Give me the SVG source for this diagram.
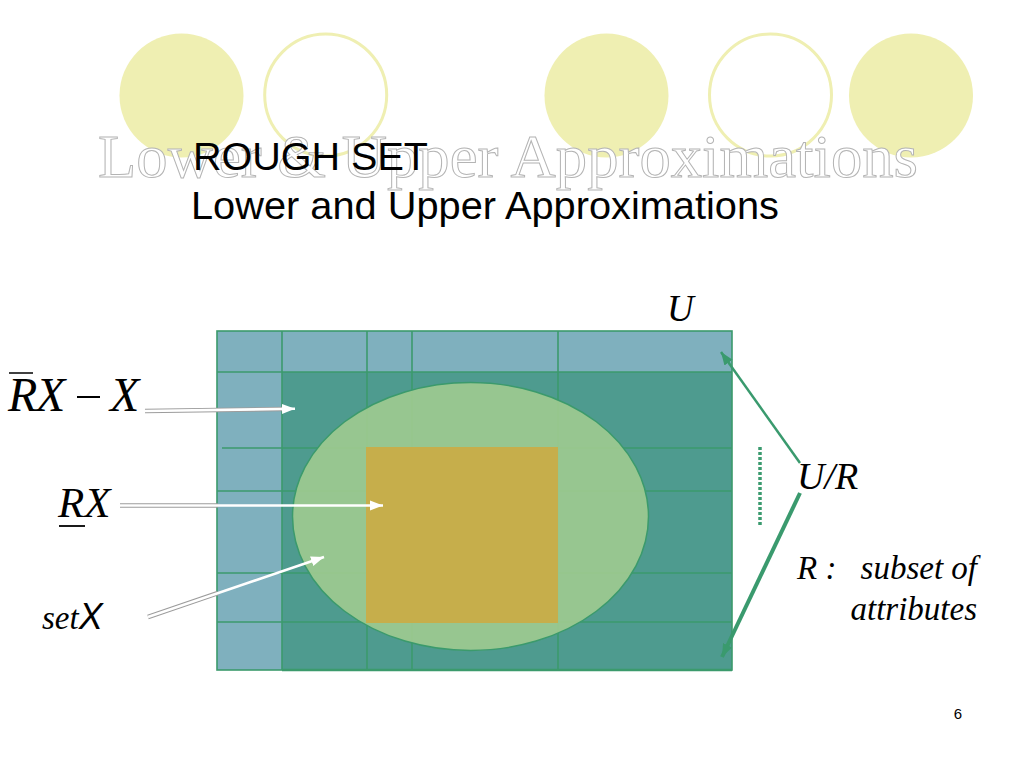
<svg xmlns="http://www.w3.org/2000/svg" width="1024" height="768" viewBox="0 0 1024 768">
<style>
.dec-fill{fill:#EFEFB2;}
.dec-ring{fill:#ffffff;stroke:#EFEFB2;stroke-width:3;}
.ghost{font-family:"Liberation Serif",serif;font-size:62px;fill:#ffffff;stroke:#b4b4b4;stroke-width:1;}
.title{font-family:"Liberation Sans",Arial,sans-serif;font-size:39px;fill:#000;}
.math{font-family:"Liberation Serif",serif;font-style:italic;fill:#000;}
.grid{stroke:#3B9A6C;stroke-width:1.6;fill:none;}
.wcase{stroke:#9c9c9c;stroke-width:4.5;fill:none;}
.wline{stroke:#ffffff;stroke-width:2.6;fill:none;}
.gline{stroke:#3A9A6E;fill:none;}
</style>
<defs>
<marker id="wh" markerUnits="userSpaceOnUse" markerWidth="14" markerHeight="12" refX="13" refY="6" orient="auto">
<path d="M0,1 L13,6 L0,11 Z" fill="#ffffff"/>
</marker>
<marker id="gh" markerUnits="userSpaceOnUse" markerWidth="14" markerHeight="12" refX="13" refY="6" orient="auto">
<path d="M0,1 L13,6 L0,11 Z" fill="#3A9A6E"/>
</marker>
</defs>
<rect width="1024" height="768" fill="#ffffff"/>

<g id="decor">
<circle class="dec-fill" cx="181.5" cy="95.5" r="62"/>
<circle class="dec-ring" cx="325.7" cy="95" r="61"/>
<circle class="dec-fill" cx="606.5" cy="95.5" r="62"/>
<circle class="dec-ring" cx="770.5" cy="95" r="61"/>
<circle class="dec-fill" cx="911" cy="95.5" r="62"/>
</g>

<g id="ghost-title">
<text class="ghost" x="98" y="177" textLength="820" lengthAdjust="spacingAndGlyphs">Lower &amp; Upper Approximations</text>
</g>

<g id="title">
<text class="title" x="193" y="169.5" textLength="235" lengthAdjust="spacingAndGlyphs">ROUGH SET</text>
<text class="title" x="191" y="219" textLength="588" lengthAdjust="spacingAndGlyphs">Lower and Upper Approximations</text>
</g>

<g id="universe">
<rect x="217" y="331" width="515" height="339" fill="#7FB0BE"/>
<rect x="282" y="372" width="450" height="298" fill="#4E9B8F"/>
<g class="grid">
<line x1="282" y1="331" x2="282" y2="670"/>
<line x1="367" y1="331" x2="367" y2="670"/>
<line x1="412" y1="331" x2="412" y2="670"/>
<line x1="558" y1="331" x2="558" y2="670"/>
<line x1="217" y1="372" x2="732" y2="372"/>
<line x1="222" y1="448" x2="732" y2="448"/>
<line x1="217" y1="491" x2="732" y2="491"/>
<line x1="217" y1="573" x2="732" y2="573"/>
<line x1="217" y1="622" x2="732" y2="622"/>
<rect x="217" y="331" width="515" height="339"/>
<line x1="282" y1="670" x2="732" y2="670" stroke-width="2.5"/>
</g>
</g>

<g id="setX">
<ellipse cx="470.5" cy="516.5" rx="178" ry="134" fill="#A0CB90" fill-opacity="0.9" stroke="#3B9A6C" stroke-width="1.5"/>
</g>

<g id="lowerRX">
<rect x="366" y="447" width="192" height="176" fill="#CBAB44" fill-opacity="0.9"/>
</g>

<g id="labels">
<text class="math" font-size="48"><tspan x="8" y="411">R</tspan><tspan x="36" y="411">X</tspan><tspan x="110" y="411">X</tspan></text>
<line x1="77" y1="397" x2="100" y2="397" stroke="#000" stroke-width="2"/>
<line x1="9" y1="373" x2="33" y2="373" stroke="#000" stroke-width="1.5"/>
<text class="math" font-size="43" x="58" y="516.5">RX</text>
<line x1="59" y1="526" x2="85" y2="526" stroke="#000" stroke-width="1.8"/>
<text x="42" y="629"><tspan class="math" font-size="33">set</tspan><tspan font-family="'Liberation Sans',Arial,sans-serif" font-style="italic" font-size="36" fill="#000">X</tspan></text>
<text class="math" font-size="37" x="667" y="321">U</text>
<text class="math" font-size="38" x="797" y="489">U/R</text>
<text class="math" font-size="33" x="797" y="579">R :</text>
<text class="math" font-size="33" x="977" y="579" text-anchor="end">subset of</text>
<text class="math" font-size="33" x="977" y="620" text-anchor="end">attributes</text>
<text font-family="'Liberation Sans',Arial,sans-serif" font-size="15" x="958" y="719" text-anchor="middle" fill="#000">6</text>
</g>

<g id="connectors">
<line class="wcase" x1="145" y1="411" x2="283" y2="409"/>
<line class="wline" x1="145" y1="411" x2="295" y2="408.8" marker-end="url(#wh)"/>
<line class="wcase" x1="120" y1="505.5" x2="218" y2="505.5"/>
<line class="wline" x1="120" y1="505.5" x2="383" y2="505.5" marker-end="url(#wh)"/>
<line class="wcase" x1="148" y1="617" x2="218" y2="593"/>
<line class="wline" x1="148" y1="617" x2="324" y2="557" marker-end="url(#wh)"/>
<line class="gline" stroke-width="2.5" x1="800" y1="463" x2="721" y2="352" marker-end="url(#gh)"/>
<line class="gline" stroke-width="4" x1="800" y1="493" x2="722" y2="657" marker-end="url(#gh)"/>
<line class="gline" stroke-width="3.5" stroke-dasharray="3 2" x1="760" y1="447" x2="760" y2="527"/>
</g>
</svg>
